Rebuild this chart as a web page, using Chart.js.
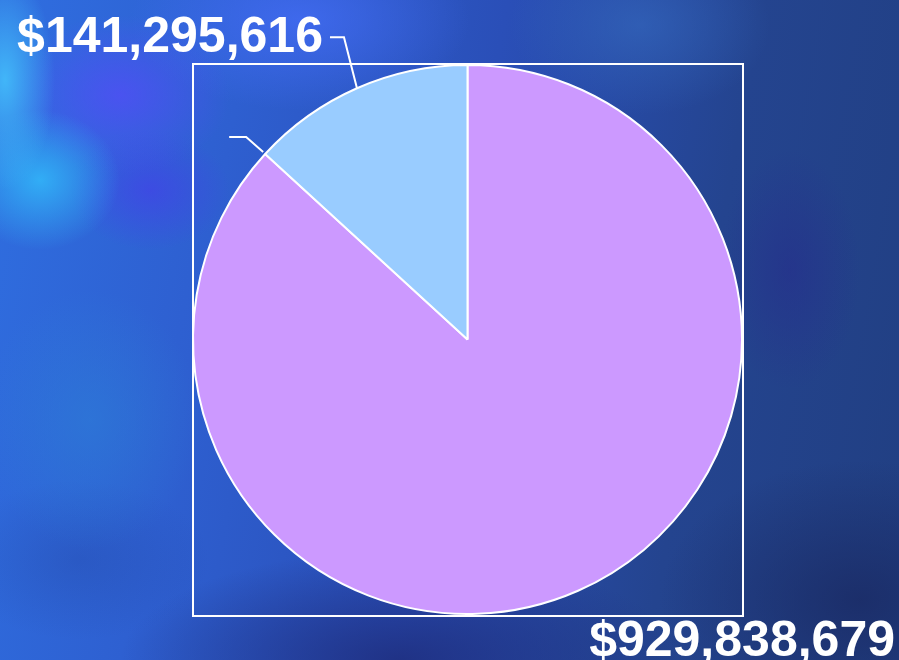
<!DOCTYPE html>
<html>
<head>
<meta charset="utf-8">
<script src="https://cdn.jsdelivr.net/npm/chart.js@4"></script>
<style>
  html, body { margin: 0; padding: 0; }
  body {
    width: 899px; height: 660px; overflow: hidden;
    background:
      radial-gradient(ellipse 50px 110px at 5px 80px, rgba(70,200,255,0.8), rgba(70,200,255,0) 100%),
      radial-gradient(ellipse 80px 70px at 40px 180px, rgba(50,185,250,0.85), rgba(50,185,250,0) 100%),
      radial-gradient(ellipse 110px 80px at 120px 95px, rgba(85,75,250,0.7), rgba(85,75,250,0) 100%),
      radial-gradient(ellipse 80px 60px at 150px 190px, rgba(70,60,235,0.6), rgba(70,60,235,0) 100%),
      radial-gradient(ellipse 170px 90px at 300px 20px, rgba(70,110,250,0.7), rgba(70,110,250,0) 100%),
      radial-gradient(ellipse 110px 130px at 90px 420px, rgba(45,125,215,0.6), rgba(45,125,215,0) 100%),
      radial-gradient(ellipse 130px 80px at 80px 560px, rgba(35,70,165,0.35), rgba(35,70,165,0) 100%),
      radial-gradient(ellipse 130px 90px at 640px 25px, rgba(55,110,195,0.55), rgba(55,110,195,0) 100%),
      radial-gradient(ellipse 70px 120px at 790px 270px, rgba(38,45,140,0.6), rgba(38,45,140,0) 100%),
      radial-gradient(ellipse 280px 110px at 400px 660px, rgba(30,45,125,0.85), rgba(30,45,125,0) 100%),
      radial-gradient(ellipse 200px 140px at 860px 600px, rgba(26,42,100,0.8), rgba(26,42,100,0) 100%),
      linear-gradient(100deg, #2f6ee0 0%, #2e5fd0 25%, #2a4fb8 50%, #24448f 75%, #213f82 100%);
  }
  #wrap { position: absolute; left: 0; top: 0; width: 899px; height: 660px; }
</style>
</head>
<body>
<div id="wrap"><canvas id="pie"></canvas></div>
<script>
// slice values (purple first, blue second, drawn clockwise from 12 o'clock)
const sliceNames = ["Purple", "Blue"];
const sliceValues = [929838679, 141295616];
const sliceColors = ["#cc99ff", "#99ccff"];

const money = (v) => "$" + v.toLocaleString("en-US");

// frame around the plot area, value labels with leader lines
const piePainter = {
  id: "piePainter",
  afterDatasetsDraw(chart) {
    const ctx = chart.ctx;
    const area = chart.chartArea;
    const arcs = chart.getDatasetMeta(0).data;
    ctx.save();
    ctx.strokeStyle = "#ffffff";
    ctx.lineWidth = 2;
    ctx.strokeRect(area.left + 1, area.top + 1, area.right - area.left - 1, area.bottom - area.top - 1);

    ctx.fillStyle = "#ffffff";
    ctx.font = "bold 50px 'Liberation Sans', Arial, sans-serif";
    ctx.textBaseline = "alphabetic";

    // blue slice: leader from mid-angle up to label at top-left
    const b = arcs[1];
    const bMid = (b.startAngle + b.endAngle) / 2;
    const bx = b.x + b.outerRadius * Math.cos(bMid);
    const by = b.y + b.outerRadius * Math.sin(bMid);
    ctx.lineWidth = 2;
    ctx.beginPath();
    ctx.moveTo(bx, by);
    ctx.lineTo(bx - 13, by - 51);
    ctx.lineTo(bx - 27, by - 51);
    ctx.stroke();
    ctx.textAlign = "right";
    ctx.fillText(money(sliceValues[1]), bx - 34, by - 36);

    // purple slice: short stray leader at its end edge, label at bottom-right
    const p = arcs[0];
    const px = p.x + p.outerRadius * Math.cos(p.endAngle);
    const py = p.y + p.outerRadius * Math.sin(p.endAngle);
    ctx.beginPath();
    ctx.moveTo(px - 2, py - 2);
    ctx.lineTo(px - 19, py - 17);
    ctx.lineTo(px - 36, py - 17);
    ctx.stroke();
    ctx.textAlign = "right";
    ctx.fillText(money(sliceValues[0]), chart.width - 4, chart.height - 4);
    ctx.restore();
  }
};

new Chart(document.getElementById("pie"), {
  type: "pie",
  data: {
    labels: sliceNames,
    datasets: [{
      data: sliceValues,
      backgroundColor: sliceColors,
      borderColor: "#ffffff",
      borderWidth: 2
    }]
  },
  options: {
    responsive: true,
    maintainAspectRatio: false,
    animation: false,
    layout: { padding: { left: 192, right: 156, top: 63, bottom: 44 } },
    plugins: {
      legend: { display: false },
      tooltip: { enabled: false }
    }
  },
  plugins: [piePainter]
});
</script>
</body>
</html>
